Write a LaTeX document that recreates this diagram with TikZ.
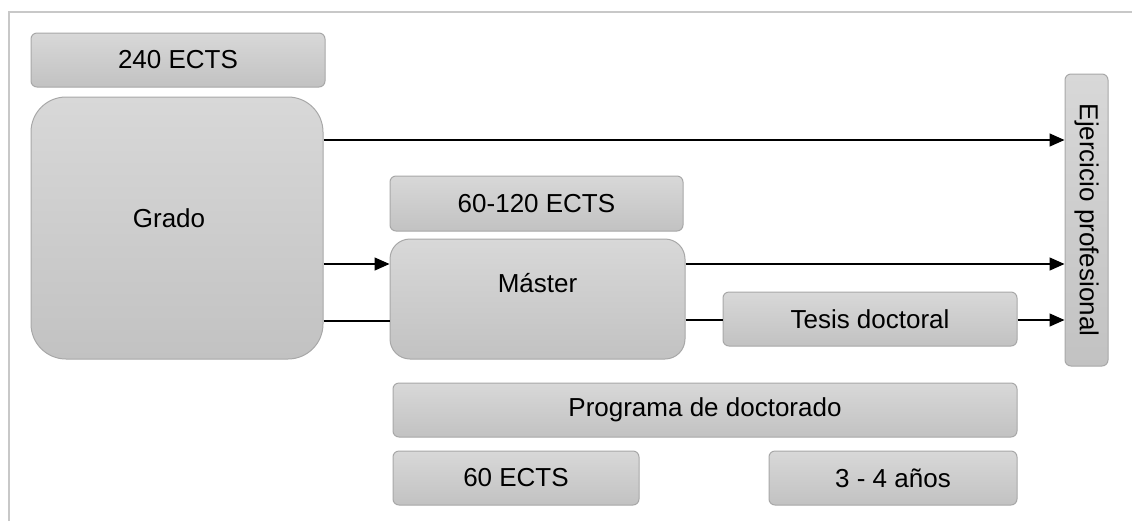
\documentclass[tikz,border=0pt]{standalone}
\usepackage{fontspec}
\setmainfont{Liberation Sans}
\usetikzlibrary{arrows.meta}
\definecolor{boxtop}{HTML}{D8D8D8}
\definecolor{boxbot}{HTML}{C2C2C2}
\definecolor{boxline}{HTML}{A8A8A8}
\definecolor{frameline}{HTML}{C8C8C8}
\begin{document}
\begin{tikzpicture}[
    x=0.5pt, y=-0.5pt,
    box/.style={draw=boxline, line width=0.5pt, rounded corners=3pt, top color=boxtop, bottom color=boxbot,
                font=\fontsize{13}{15}\selectfont, align=center, inner sep=0pt},
    arrow/.style={-{Triangle[length=7.5pt, width=6.5pt]}, line width=0.75pt, draw=black},
    link/.style={line width=0.75pt, draw=black}
]
  \useasboundingbox (0,0) rectangle (1132,521);
  \draw[frameline, line width=1pt] (9,521) -- (9,12) -- (1132,12);

  \node[box, minimum width=147pt, minimum height=27pt] (ects240) at (178,60) {240 ECTS};
  \node[box, minimum width=146pt, minimum height=131pt, rounded corners=17.5pt,
        label={[font=\fontsize{13}{15}\selectfont, xshift=-4pt, yshift=5pt]center:Grado}] (grado) at (177,228) {};
  \node[box, minimum width=146.5pt, minimum height=27.5pt] (ects60120) at (536.5,203.5) {60-120 ECTS};
  \node[box, minimum width=147.5pt, minimum height=60pt, rounded corners=10pt,
        label={[font=\fontsize{13}{15}\selectfont, yshift=8pt]center:Máster}] (master) at (537.5,299) {};
  \node[box, minimum width=147pt, minimum height=27pt] (tesis) at (870,319) {Tesis doctoral};
  \node[box, minimum width=21.5pt, minimum height=146pt] (ejercicio) at (1086.5,220)
        {\rotatebox{-90}{Ejercicio profesional}};
  \node[box, minimum width=312pt, minimum height=27pt] (programa) at (705,410) {Programa de doctorado};
  \node[box, minimum width=123pt, minimum height=27pt] (ects60) at (516,478) {60 ECTS};
  \node[box, minimum width=124pt, minimum height=27pt] (anos) at (893,478) {3 - 4 años};

  % Connectors
  \draw[arrow] (grado.east |- 0,140) -- (ejercicio.west |- 0,140);
  \draw[arrow] (grado.east |- 0,264) -- (master.west |- 0,264);
  \draw[link] (grado.east |- 0,321) -- (master.west |- 0,321);
  \draw[arrow] (master.east |- 0,264) -- (ejercicio.west |- 0,264);
  \draw[link] (master.east |- 0,320) -- (tesis.west |- 0,320);
  \draw[arrow] (tesis.east |- 0,320) -- (ejercicio.west |- 0,320);
\end{tikzpicture}
\end{document}
